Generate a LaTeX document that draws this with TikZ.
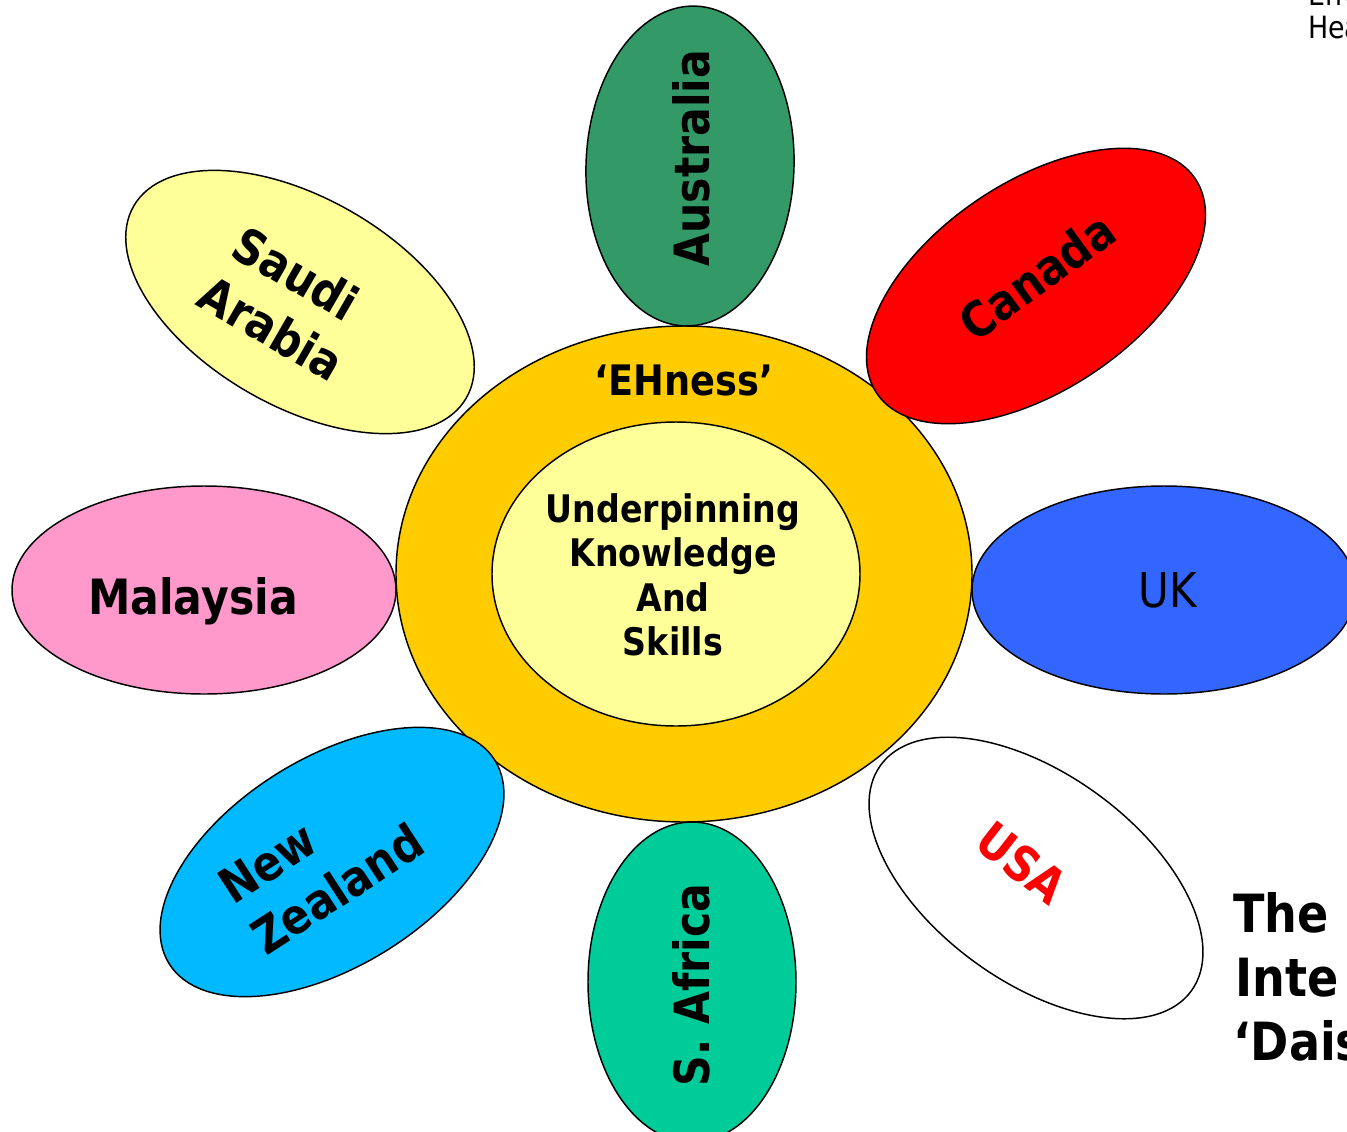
\documentclass[tikz,border=0pt]{standalone}
\usepackage{fontspec}
\setmainfont{DejaVu Sans}[FakeStretch=0.875]
\usetikzlibrary{shapes.geometric}
\tikzset{
  petal/.style={draw=black,line width=1.1pt,ellipse,inner sep=0pt,minimum width=384*0.75pt,minimum height=208*0.75pt},
  vpetal/.style={draw=black,line width=1.1pt,ellipse,inner sep=0pt,minimum width=320*0.75pt,minimum height=208*0.75pt},
  lab/.style={font=\fontsize{36.5}{45}\selectfont\bfseries,align=center,inner sep=0pt},
  core/.style={font=\fontsize{28.5}{33.4}\selectfont\bfseries,align=center,inner sep=0pt},
  side/.style={font=\fontsize{39.5}{48}\selectfont\bfseries,anchor=base west,inner sep=0pt},
  corner/.style={font=\fontsize{23}{25}\selectfont,anchor=base west,inner sep=0pt}
}
\definecolor{cAus}{HTML}{339966}
\definecolor{cSaudi}{HTML}{FFFF99}
\definecolor{cPink}{HTML}{FF99CC}
\definecolor{cUK}{HTML}{3366FF}
\definecolor{cNZ}{HTML}{00B9FF}
\definecolor{cSA}{HTML}{00CC99}
\definecolor{cGold}{HTML}{FFCC00}
\begin{document}
\begin{tikzpicture}[x=0.75pt,y=-0.75pt]
\useasboundingbox (0,0) rectangle (1347,1132);
\clip (0,0) rectangle (1347,1132);
\node[draw=black,line width=1.1pt,ellipse,inner sep=0pt,fill=cGold,minimum width=576*0.75pt,minimum height=496*0.75pt] (outer) at (684,574) {};
\node[draw=black,line width=1.1pt,ellipse,inner sep=0pt,fill=cSaudi,minimum width=368*0.75pt,minimum height=304*0.75pt] (inner) at (676,574) {};
\node[vpetal,fill=cAus,rotate=88] (australia) at (690,166) {};
\node[vpetal,fill=cSA,rotate=90] (safrica) at (692,982) {};
\node[petal,fill=red,rotate=34] (canada) at (1036,286) {};
\node[petal,fill=cSaudi,rotate=-30] (saudi) at (300,302) {};
\node[petal,fill=cPink] (malaysia) at (204,590) {};
\node[petal,fill=cUK] (uk) at (1164,590) {};
\node[petal,fill=cNZ,rotate=32] (nz) at (332,862) {};
\node[petal,fill=white,rotate=-36] (usa) at (1036,878) {};
\node[lab,rotate=90] (tAus) at (691,158) {Australia};
\node[lab,rotate=90] (tSA) at (691,985) {S. Africa};
\node[lab,rotate=36] (tCan) at (1037,276) {Canada};
\node[lab,rotate=-30] (tSaudi) at (281,299) {Saudi\\\hspace*{10pt}Arabia};
\node[lab] (tMal) at (193,601) {Malaysia};
\node[font=\fontsize{36}{43}\selectfont,inner sep=0pt] (tUK) at (1168,590) {UK};
\node[lab,rotate=33,align=left] (tNZ) at (321,864) {New\\Zealand};
\node[lab,rotate=-38,text=red] (tUSA) at (1022,863) {USA};
\node[font=\fontsize{31.5}{38}\selectfont\bfseries,inner sep=0pt] (tEH) at (684,380) {‘EHness’};
\node[core] (tUnder) at (673,575) {Underpinning\\Knowledge\\And\\Skills};
\node[side] (tThe) at (1233,932) {The};
\node[side] (tInte) at (1235,996) {Inte};
\node[side] (tDais) at (1233,1060) {‘Dais};
\node[corner] (tEnv) at (1308,5) {Env};
\node[corner] (tHea) at (1308,38) {Hea};
\end{tikzpicture}
\end{document}
